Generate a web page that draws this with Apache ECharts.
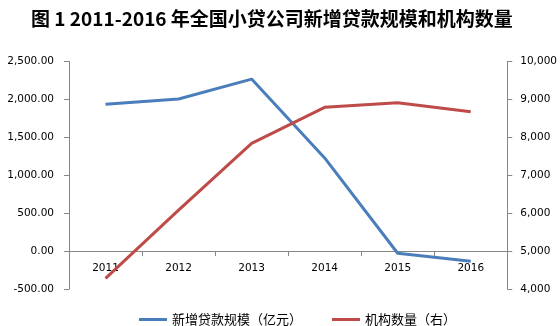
<!DOCTYPE html>
<html><head><meta charset="utf-8">
<script src="https://cdn.jsdelivr.net/npm/echarts@6/dist/echarts.min.js"></script>
<style>html,body{margin:0;padding:0;background:#fff}#c{width:560px;height:326px}</style>
</head><body><div id="c"></div>
<script>
const categories = ['2011','2012','2013','2014','2015','2016'];
const loans = [1935, 2005, 2268, 1228, -29, -135];
const institutions = [4282, 6080, 7839, 8791, 8910, 8673];
const leftTicks = [-500, 2500, 500];
const rightTicks = [4000, 10000, 1000];

const gridTop = 61.5, gridBottom = 37, H = 326;
const plotH = H - gridTop - gridBottom;
const zeroOffset = -(0 - leftTicks[0]) / (leftTicks[1] - leftTicks[0]) * plotH;

const chart = echarts.init(document.getElementById('c'));
const axisColor = '#868686';
const labelFont = {fontFamily: 'DejaVu Sans', fontSize: 10.5, color: '#000'};
function fmt2(v){return v.toLocaleString('en-US',{minimumFractionDigits:2,maximumFractionDigits:2});}
chart.setOption({
  animation: false,
  title: {
    text: '图 1 2011-2016 年全国小贷公司新增贷款规模和机构数量',
    left: 26, top: 4,
    textStyle: {fontFamily: 'Noto Sans CJK SC', fontWeight: 'bold', fontSize: 19, color: '#000'}
  },
  legend: {
    top: 308, left: 134, itemGap: 30, itemWidth: 28, itemHeight: 3,
    icon: 'rect',
    textStyle: {fontFamily: 'Noto Sans CJK SC', fontSize: 13, color: '#000'},
    data: ['新增贷款规模（亿元）', '机构数量（右）']
  },
  grid: {left: 69, right: 47, top: gridTop, bottom: gridBottom},
  xAxis: {
    type: 'category', data: categories, boundaryGap: true,
    offset: zeroOffset,
    axisLine: {onZero: false, lineStyle: {color: axisColor}},
    axisTick: {show: true, length: 5, lineStyle: {color: axisColor}},
    axisLabel: Object.assign({margin: 12}, labelFont)
  },
  yAxis: [{
    type: 'value', min: leftTicks[0], max: leftTicks[1], interval: leftTicks[2],
    splitLine: {show: false},
    axisLine: {show: true, lineStyle: {color: axisColor}},
    axisTick: {show: true, length: 5, lineStyle: {color: axisColor}},
    axisLabel: Object.assign({margin: 15, formatter: fmt2}, labelFont)
  }, {
    type: 'value', min: rightTicks[0], max: rightTicks[1], interval: rightTicks[2],
    position: 'right',
    splitLine: {show: false},
    axisLine: {show: true, lineStyle: {color: axisColor}},
    axisTick: {show: true, length: 5, lineStyle: {color: axisColor}},
    axisLabel: Object.assign({margin: 13, formatter: v => v.toLocaleString('en-US')}, labelFont)
  }],
  series: [{
    name: '新增贷款规模（亿元）', type: 'line', data: loans, yAxisIndex: 0,
    symbol: 'none', lineStyle: {width: 3, color: '#4A7EBB'}, itemStyle: {color: '#4A7EBB'}
  }, {
    name: '机构数量（右）', type: 'line', data: institutions, yAxisIndex: 1,
    symbol: 'none', lineStyle: {width: 3, color: '#BE4B48'}, itemStyle: {color: '#BE4B48'}
  }]
});
</script></body></html>
